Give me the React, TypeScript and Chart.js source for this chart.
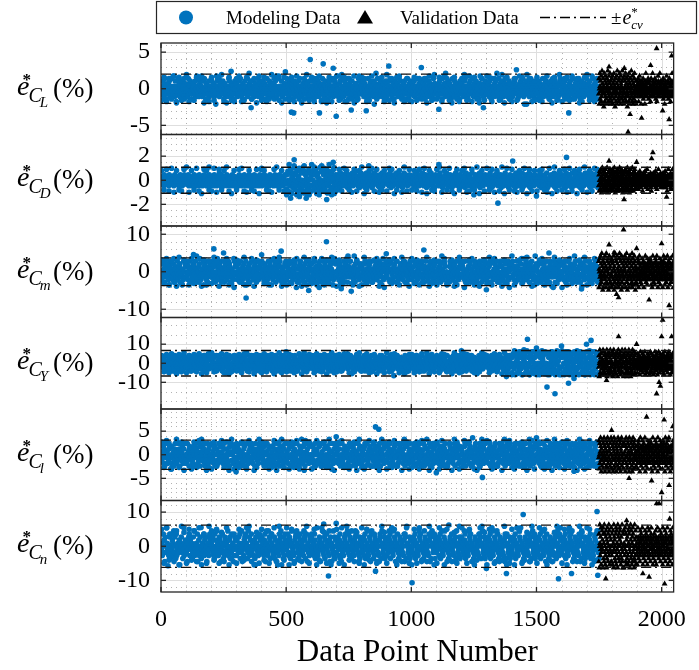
import React, { useEffect, useRef } from "react";
import { Chart, registerables } from "chart.js";

Chart.register(...registerables);

const SERIF = "'Liberation Serif', 'Times New Roman', serif";
const BLUE = "#0072BD";
const AXIS_COLOR = "#262626";

// Horizontal axis: data point number
const xMin = 0;
const xMax = 2048;
const xTickValues = [0, 500, 1000, 1500, 2000];
const xMinorStep = 100;

// One panel per normalised coefficient error, top to bottom
const panelKeys = ["CL", "CD", "Cm", "CY", "Cl", "Cn"];
const panelSubscripts = ["L", "D", "m", "Y", "l", "n"];
const panelLimits = [6.25, 3.8, 12.2, 24, 9.7, 13.4];
const panelTickValues = [
  [-5, 0, 5],
  [-2, 0, 2],
  [-10, 0, 10],
  [-10, 0, 10],
  [-5, 0, 5],
  [-10, 0, 10],
];
const panelMinorStep = [1, 0.5, 2, 5, 1, 2];
// cross-validation error bound drawn as dash-dot lines (±e*cv)
const ecvLimits = [2.0, 1.08, 3.7, 6.7, 3.1, 6.2];

// Error samples are stored as level strings: 'm' is zero, each letter step is one level unit.
const LEVELS = "abcdefghijklmnopqrstuvwxyz";
const ZERO_LEVEL = 12;
const levelUnits = [0.35, 0.15, 0.7, 1.0, 0.6, 0.9];
// the sparser fringe samples use a finer level unit
const edgeUnits = [0.175, 0.1, 0.35, 0.5, 0.3, 0.45];
const modelFirstPoint = 1;
const modelSpacing = 2;
const edgeFirstPoint = 2;
const edgeSpacing = 10;
const validationFirstPoint = 1749;
const validationSpacing = 1;

const clModelRows = `
mkplnjoqlm inkmolpkjn qmlkrnmjpl hnmkqlojmn lpkmnjiomk
nlmjqkonpl kmimnolkpj mrlnkjmopl nkjmplqkmi onlmkpjnml
kpmlnojmkg lnpqmkjlon mlkpnimojl knmjlqpnkm jolnmkhpml
omjlkpnmql jkmonilpmk nlqjmkonlp mikplnjmok lmnqjkpoml
jnmpklomin kqlmjnpokl mnjkolimpn ljmkqrnlkm pnjlmkoiln
mlkonjpmlq kniompljkn olmkpjnqml kjmonlipkm nlojmkplnj
lpmnkiqolj mknpljomkn hlqmkojnpl mkilnopjmk qnlmjkponl
knrmjlopim kqnljmphok nmlqikojnm lpkmnrjlok mjniqlpkmo
nmlkpjomln kimqlnjopk mlnkjpomls nkqmljonpk lmjnokimpl
jolmnkpqlm njkmoilpnk mlojkqnmpl kjnmolpkim nlqkmjonlp
mkonlpjmkn lqimkonjlp mnkljomiqp lnkmjponlk mjliqnokml
lnmjkopmln kiqmlnojsk mlnkpjomli nkqmljpnom lkjmonipkl
omkljnpqmk lnjimokpln mkqljnomkp lnmjkiorln qkmljnopmk
knlmojpkmi lqnmkjolpn mkljqnmoik pnlmjkoqln mkjlnpoimk
mljnkopqlm nkimjlonpk lmqnjkomlp gnkmljopqn lkmjnopilk
nkmlpjoimn lkqmjnolpk mnljkiompl nkqjmlopnk mlijnokqpl
lmkonjpimq lnkmjolpnk miqlnkjomp lnkmqjoinl pkmljnokmq
knmlojpkim nlqmkjonlp mkiln
`;
const clEdgeRows = `
dvcuewbvdu xcedvuwbec vdwuxcbvde uwcdvyeubw dvcexuwdbv
udvcwebuxd vcuwdebvcu wdxvcuebdw vucdwaeuvc xdubvwecud
cvdueubwdx evcwudbvec uxdwcvebud wvcuydxbve cudwvaxucd
vdcuwebvdx cuvdweubcv xdwcu
`;
const clValidationRows = `
kqgmsniplh rjmtkogqln fmskhpjrmo ilqgnmtkph jrlomsigkp
nhqjmrkgol sipnkfmqjh lrogtkmnip hqjsmklgro nipmtjkhql
gmrkpinsjh omqlfkrnjp hsmogiqlkn tjmphrkgoi lnqsjmkhpg
lnkmpjoqlh nmkrljpong mkjlpnoqik lmnjgkposl nmjkoplqmi
kompljnhmq lnkjmspolk njmlqokpim lnhkmjorpl mkjnslopmk
nlmkojpqil mnkgjlopmk nrlmkjpoim lkqnmjohpl nmksjlopkm
`;
const clModelOutliers = [
  [596, 4.0], [648, 3.4], [688, 2.8], [521, -3.2], [530, -3.3], [633, -3.3],
  [700, -3.75], [1629, -3.3], [1288, -2.6], [497, 2.3], [820, -3.0], [1040, 2.9],
  [760, -2.9], [910, 3.1], [1110, -2.8], [1420, 2.6], [360, -2.6], [280, 2.4],
];
const clValidationOutliers = [
  [1980, 5.5], [1956, 3.2], [1851, 2.8], [1874, -3.5], [1866, -5.9], [2004, -3.0],
  [2030, -4.2], [1790, 3.0], [2040, 4.5], [1920, -4.0],
];

const cdModelRows = `
lmkonjplmk nlomkjpnlm kolnmjkpml nkomljnkpm lojnkmplkn
mknlpjomkl njmolkpnmj lkonmjplkn mojlknpmlo jkmnlopkjm
nlkmojpnlk mjolnkqmlj pknmljoknm lpjnmkolnj mkplnjomkl
kmlnjopmkl njkmolpnkj mlonkjpmln kojmlnpkmj lnokmjlpnm
ljmnkoplmk jnlmokjpnm lkomjnlpkm njolmkpjnl mokjlnmpkl
hpkrgmqjsl foniqkthmp jrglondsik qhmtjfrlpg nkiqhsmjro
gqjmrhkpsi lfoqjnhtkm riglpjqhmn skfpjrmgoi qlhnstjkpg
lnkpmjoiql mknpljomkq nlikmpojln kmqjlnpmkr lonjkmiplq
mkonljpimk qnlmjokpln mijnkqolmp knljmoipnk lqmjknolpm
nlkmpjoqmi lnkjmoplkn qmljnkpoml jkinmqolpk nmjlokpnlm
kmolnjpkmi qlnmkjopln mkqljnompk ilnmjkpolq nkmjloinpm
lnmkojpqln mkijlonmpk qlnjmkoplm inkljmpoqk nlmjokpinl
mjoknlpimq nklmjopknl mqikljnopm klnjmoqipk lmnjkolpmn
knmlojpqkm inljmokpnl mqkjlnompi lknmjopqlk nmjliokpnm
olmkjnpimq lnkmjolpkn mqiljnkomp lknmjqoipl nkmljopnkm
mnlkojpqmi nlkjmoplnk qmijlnkomp lnkmjqoilp kmnljpoqnk
lkmnojpilq mnkjlopmnk iqlmjnkopl mknjqloipm nlkmjopqnl
mkolnjpimq lnkmjolpnk qmiln
`;
const cdEdgeRows = `
uevdwcuedv xcuewdbvue dwcveuxdbu evwdcuedvb wuedcvxeud
azbyawcyba zxbaywczab evdwuecvdu xbeuwdvceu dwvbeucxdv
eudvcwbued vxcuewdbve uwcdvexbud wevcudxbwe vdcuewbvdu
duvecwbxdu evcwdubvex cudwv
`;
const cdValidationRows = `
jpgmrkhqns lfojtkmipg rhnkqjsmlg oiptkhfmqj nrglsoikph
mqhjsnkgpr iltomjfqkh nrpgksjmio hqltgnkrjp mshoqlfink
pgkrmjhsno qilgtkpmjh rnfoqksgml ihpjtnkqgo mrjslhkpni
mlnkojpqhm knljrmopil mnkjlgpoqm nlkmjrpoil knmsljhopm
lkmnjopqil gnmkljpoqm lnkjmorpil mnhkljposm nlkmjopqil
knlmjpoqim lnkjmrpoil mnkgljposm klnmjopqih mlnkjsopqm
`;
const cdModelOutliers = [
  [532, 1.7], [192, 1.1], [688, 1.5], [662, -1.6], [580, -1.5], [518, -1.5],
  [1620, 1.9], [1405, 1.6], [1346, -1.9], [400, 0.9], [1110, 1.3], [1500, -1.3],
  [830, 1.2], [1250, -1.2],
];
const cdValidationOutliers = [
  [1790, 1.6], [1850, -1.6], [1960, 1.8], [1965, 2.3], [2020, -1.4], [1900, 1.5],
];

const cmModelRows = `
mjplkniqom lknpjmhoql nkmjprlion kmqjlnopik mlhnjqmkpo
kplmjonqil mnkjpomlqk injlmoprkj mlnkqhoplm jkniqmolpk
nkqlmjopik lmrjnkpoml qjknmliopk njmlqkpoim lnkjmrqlop
omjkplniqm kljonpmhkq lnmjokpilm nqkljmopnk imlqjnokpl
lqmknjpoil mkjnqlopmk hlnjmkoqpi nlkmjpoqlm kinjlmopkq
jmoklnpqim lnkjmopqlk gnijlokpqm lnkjomipln qkmljnopki
pkmnljrqio mhknlpjqom ilnkmqjpol nkimjlqopk nmlhjkrqpm
kmqlnjopim lknjmqolpk mnisloknqm lnkhjomipl nqkmljnopk
onlkmjpqmi nlkjmoplnk qmijlnkomp ljkmnqoilp nkmrjopnkm
lkonmjpiqm nljkmopmnk iqlmjnkopl mknjqloipm nlkmjopqnl
njmkloqpim kljnmopqkl pnijklomqn lmkjnoipql kmnljopikm
kqmnljopim lnkjmqpolk mhijlkoqpm nlkjmopiln qkmljnoqpk
lponkmjqil kmnloqjpik nmljkoqmpi jlnkomqpkl imnjolkqpm
jnmklopqil qmkjlnpmko nlijmkopql okmjnliqpm lnkqjmopnk
pkqnljomim lnojkqmlpk rnijmlkopq jlnkmoipln qkmljnoskp
nomkjlpqim klnjpomqlk jnimlkopqm nlkgmoqipl nkpljomqkm
lmpkjnoqim nlqkjmoplk mnijokpqln lmkjnoqipl kpnlmjoqkm
mnkqjolpim lnkjmoplqk onijl
`;
const cmEdgeRows = `
vdwcuebxdv ucwdyebvcu dxvbeuwcda vuexcdwbvu zdecvwuxbd
cudvwebxcv dueawcvdxu bvcewudyvb cxduevwbca uvdwecxudb
wdvcuexbdv cuywdevbcx uadvwcebuv dxcwuebvda ycuvdwxebc
dvwcuebxdv aucwdyevbx cudwv
`;
const cmValidationRows = `
qgnmrkhslp ijtomkfqgn rlhpjskmog tinkqhmrlf pjsgnoikqh
lrgmkpqhjs nfoimtkglr qjhspnkmig olrtjhkqmn fsipglkrmo
jqhnsmkgpr ltiofjqmkh rgnpslkmjq hoitgkrnlp mjshqkfoni
mlhnkjrpqg nlskmjoipl hmnrkljpqo gmlnkjspoi lmnhkrjopq
nkmljrpoqh mlngkjsopi lnmkhjrpqo mkslnjgopi nmlkrjhpoq
lnmkjgpoqs nlmkhjrpoi mlnksjgopq lnmhkjrpoi nmlkjspogq
`;
const cmModelOutliers = [
  [211, 6.1], [250, 5.0], [661, 8.0], [340, -7.0], [720, -4.5], [480, 5.5],
  [1050, 5.8], [760, -5.2], [130, 4.6], [590, -5.0], [900, 4.8], [1300, -4.8],
  [1550, 5.0], [1680, -4.6],
];
const cmValidationOutliers = [
  [1848, 11.2], [1790, 7.2], [1810, 5.1], [1828, -6.9], [1820, -6.0], [1950, -7.5],
  [2000, 7.5], [2030, -9.0], [1900, 6.2],
];

const cyModelRows = `
mlkonpjimq lnkjmoqlpk nmjilkoqpm lkjnmopiql nkmqjlonpk
kmnljoqpim nlkjpomqlk ipnjmklqom jlnkomqipl mknlrjopqk
olnkmjpqim kqlnjmoplk nmijlkopqh nlkjmoqipl pkmljonqkm
jmonklpqil mnkjlopmqk lnijmkoqpl mnkjloqipm lnkmjopqnk
nkmqljopim lqnkjmolpk mnijlokpqm lnkjomipln qkmljnopki
pmlkjonqim klnjmopqlk mnijlkopqm nlkjmoqipl nkmljopqkm
lmnkjoqpim nlkjmoplqk mnijlkopqn lmkjnoqipl kmnljopqkm
qnmljkopim lnkjmqolpk mnrjlokpqm lnkjomipln qkmljnopki
mkolnjpimq lnkmjolpnk qmilnjkomp lknmjopqlk nmjliokpnm
knmlojpqkm inljmokpnl mqkjlnompi lknmjopqlk nmjliokpnm
olmkjnpimq lnkmjolpkn mqiljnkomp lknmjqoipl nkmljopnkm
lkmnojpilq mnkjlopmnk iqlmjnkopl mknjqloipm nlkmjopqnl
nlkmpjoqmi lnkjmoplkn qmljnkpoml jkinmqolpk nmjlokpnlm
mkonljpimk qnlmjokpln mijnkqolmp knljmoipnk lqmjknolpm
hpkrmjqgsl nohqkimsjp lrgkonmqhj sikpmlgrnq hjoskmpilr
gqjmrhkpsi lnoqjmhskm riglpjqhmn skipjrmgoi qlhnsrjkpg
kphrmgqjso limskqhnpj rglmosikqh njrpgmlsok hqimrjpgnl
sjhpmkqgrn oilhmpsjkq ngrlh
`;
const cyEdgeRows = `
udvcwebvdx cuevdwbucv xdeuwcvbdu evcwxdubve cwduvbexcu
dvucewbxdv ucwedvbuxc dvewucbdvx euwcdvbeuc xdvwucebdv
vcudwexbvd ucwvdebxuc dwvuecbdxv ucewdvbxcu azbyaxzayb
yazbxaybza zbyaxazyba bzyax
`;
const cyValidationRows = `
kqfmtnhplr gjmslogtkn ihsqkmrjgp oltfnkqimh srjgpntkmi
hnqkmsfgrl tpijmkhqon grslmfkpti jnhqrmkgos lipthkmnqf
mrgkptjhsn lofqikmrgh tnpjskmfoq hilrgtmnkp jsoqhlkgrm
mnlkhjrpoq lmnkgjspoi nlmkjrhpoq mlnksjgopi lnmkhjrpoq
kpmgnlsoih rmjnklqogp lhmnsjkoqi nrmlgkpjos mkhlnrjpqi
omkjnlrhpq gnmkslojpi lnqkmhjrop smklngjoqp nhlmkrjpqi
`;
const cyModelOutliers = [
  [1464, 12.6], [1718, 12.0], [1574, -16.0], [1542, -12.5], [1628, -10.5],
  [1500, 8.0], [1600, 9.0], [1650, -8.0], [1700, 10.0], [1450, 7.0], [1380, -7.0],
  [500, 6.0], [930, -6.5], [1200, 6.5],
];
const cyValidationOutliers = [
  [2004, 22.6], [1828, 14.0], [2000, 14.0], [2040, 14.0], [1980, -16.0],
  [1990, -10.0], [1995, -12.0], [1780, -9.0], [1900, 10.0],
];

const clRollModelRows = `
nkmlpjoimq lnqjmkoplh mpijlnkoqm jlnkqmoiql nkpmjolqkm
jmqknlopim lokjnmpqil onmjlkqpin lmkpnoqjil kmnqjoplkm
mqlnkjopim oikjnmqlpk mnpjlqkoim lokjnmipqn qkmpjnolki
lkpnojmilq mnkjqopmlk iqlmjnkopl pknjmloiqm nlkojmpqnl
omlkjnpqim nqkjmolpki mnpjlkqoim lnqjomkipl nkmpjolqkm
knmjloqpim lpkjnmoqlk mqijnkhpom lnkjpmqirl nkomljpqkm
mlpkjnoqim nokjmqplki mnqjlkoipm lpkjomnqil nkqljomqkp
pnmkjloqim lqkjmnopli mnojlkqpmi lnkpomjqil nkmqjolpkm
jlnkmopqim qlkjnmopil mnikqlopjm lnkjpmqoil nkmlojpqkm
mkpnljoqim lnkjmopqli qnijmkoplm lnqjomkipl pkmljnoqkm
nlmkjpoqim lnpjmkoqli mnijqkoplm lokjnmqipl nkmqjolpkm
lqnkjmopim lnkjpmoqli mnijlkqpom lnkjomqipl nqmljopkkm
onmkjlpqim lnkqmjopli mnsjlkopqm lnkjomqipl nkmpjolqkm
kmnljoqpim lnkjmopqli mnijlkopqm qnkjomlipl nkmljpoqkm
mlnkjopqim nlkjmqopli mnpjlkoiqm lnkjomqipl nkmljopqkm
pkmnljoqim lnkqjmopli mnijlkopqm lnkjomqipl nkmljopqkm
nmlkjopqim lnqkjmopli mnijlkopqm lnkjomqipl nkmljopqkm
lmknjopqim nlkjmqopli mnijl
`;
const clRollEdgeRows = `
vdwucexdvb uecvdwxubd cveuwdvbxc udvecwubdx veucdwbvxd
ucvdwexbuv cdwuevdxcb uvwdecuvbx dcuwevdbxu cvdweubxvc
duvcwexbdu vcwedubxvc dwuvecbdxu wvcdeubxvw dcuevdbxwc
uvdcwebxud vcweudbxvc dwuev
`;
const clRollValidationRows = `
lrhmqjnspk gomikrlhqn jsmpkglorh inqmkshjpl rgnokiqmhs
jmrhlpkgoq nsimhkrljp gqomnikshr lpjmhqkgon rsilmpjhqk
hqmknrgpls jolihmqrkn pgsmjlhkoq nrimgkpsjh lqomrkhnpi
lmnkjhpoqr nlmkgjsopi mlnkrjhpoq lnmksjgopi nmlkhjrpoq
mnkljrpohq lnmgkjsopi kmlnjhrpoq nlmkjgsopi lmnkjrhpoq
nlkmhjrpoq mlnkgjspoi lqnmkjrhop snmlkjgopi mlpnkhjrqo
`;
const clRollModelOutliers = [
  [857, 5.9], [870, 5.4], [1284, -4.8], [300, -3.6], [700, 3.8], [1100, -3.8],
  [1500, 3.6], [1650, -3.5],
];
const clRollValidationOutliers = [
  [1940, 8.0], [2010, 7.4], [2045, 6.0], [1800, 5.2], [2000, -8.0], [2030, -6.5],
  [1870, -5.0], [1960, -5.5],
];

const cnModelRows = `
lnjmqkohpm ksnlmjpqik mlonjrkpmi qjlnmkogln pmkilsjnom
kmhnlpqjom lnikpmrjlk nmqhlojkpm ilnmkqjopl mhknpjlqom
nmpkljiqom krlnjmpokh lmqnikjpom nlkrjmopil kqmnhjlpom
jolmkpnqim lkhnmjopql nmikrlpjom qklnmjoigp lnmkjpqlom
mpknljoqhm nlkjrmpoil qnmkjlpiom hlknmjqopr lmnkipjqom
lnmqkjpoim nrkljmhopq mnkilpjqom lnkmjrpoil qmhnkljpom
pmlknjqoim lskjmnpohl mnrkljpiom qlnkmjohpg nmlkrjpiom
kmnpljoqim hnkljmpoql mnrkqljpom ilnkmjoprq lnmkhjpiom
nlkmpjoqim lnrkjmpohl qmnkiljpom lnhkmjoqpi mrnkljpiom
mjnklpoqim lnkjrmpohl mnqkiljpom lnkmjohqpi smnkljpiom
lmknpjoqim nlkjmrpoql hmnkiljpom lnkmjqohpi mrnklgpiom
knmlpjoqim lnkjmpronl mhnkiljpom qlnkmjohpi rmnkljpiom
pmnkljoqim lnkjmrpoql mnhkiljpom lnkmjqospi mnrkljpiom
mnklpjoqim lnkjrmpohl mnqkiljpom lnkmjohqpi gmnkljpiom
lkmnpjoqim nlkjmrposl mnhkiljpom lnkmjqohpi mnrkljpiom
nmklpjoqim lnrkjmpohl qmnkiljpom lnhkmjoqpi mnrkljpsom
kmlnpjoqim lnkjmrpoql mnhkiljpom lnkmjqohpi rmnkljpiom
mlknpjoqim nlkjmhpoql mnrki
`;
const cnEdgeRows = `
xbyducwazv bxdwcyaubz wdxbvcyaeu bxwdyzcavb xdwbuyczad
yaxbwdcvzb uxadyvbwce xbyazdwcvb yaxdwubczv bwyxadcuzb
axbydwczvu bywaxdcvbz ywbxcaduzv axybwcdzub xaywbdvczu
bywxadcvzu bxaywdczvb yxadw
`;
const cnValidationRows = `
hqfmtnjpls gkmrlofsqi nhtkqmgjpr lfoisnkhqm tjrgplmkoh
shjqmgkrnf tlpoimhkqs grjnlftmpi kqhosrmjgn pilthkfqmr
fnrjlsmhqg kotipmjgrn hqslfkmtoi rjgnphsqkm lfitohjrgp
mnlkgjspoi lmnkhjrpoq nlmksjgopi mlnkjrhpoq lnmkgjspoi
krmnljhpoq snmlkjgoip lmqnkhjrop gmnlksjopi nlmkrjhpoq
lnmkjgspoi mnlkrjhpoq nkmlsjgoip lmnkhjrpoq mlnkgjspoi
`;
const cnModelOutliers = [
  [1447, 9.3], [1742, 10.2], [1003, -10.7], [1588, -9.5], [1380, -8.0], [1640, -8.0],
  [1745, -8.5], [28, -5.7], [669, -8.7], [700, 6.7], [650, 6.5], [466, -5.5],
  [857, -7.3], [160, 5.5], [1150, 6.2], [1300, -6.5],
];
const cnValidationOutliers = [
  [1980, 12.5], [1990, 12.5], [2032, 8.0], [1777, -9.5], [2012, -11.0], [1950, -9.0],
  [1925, -8.0], [1860, 7.5],
];

const modelRows = [clModelRows, cdModelRows, cmModelRows, cyModelRows, clRollModelRows, cnModelRows];
const edgeRows = [clEdgeRows, cdEdgeRows, cmEdgeRows, cyEdgeRows, clRollEdgeRows, cnEdgeRows];
const validationRows = [clValidationRows, cdValidationRows, cmValidationRows, cyValidationRows, clRollValidationRows, cnValidationRows];
const modelOutliers = [clModelOutliers, cdModelOutliers, cmModelOutliers, cyModelOutliers, clRollModelOutliers, cnModelOutliers];
const validationOutliers = [clValidationOutliers, cdValidationOutliers, cmValidationOutliers, cyValidationOutliers, clRollValidationOutliers, cnValidationOutliers];

function decodeLevels(rows: string, unit: number, firstPoint: number, spacing: number) {
  const chars = rows.replace(/\s+/g, "");
  const pts: { x: number; y: number }[] = [];
  for (let i = 0; i < chars.length; i++) {
    const lvl = LEVELS.indexOf(chars[i]);
    if (lvl < 0) continue;
    pts.push({ x: firstPoint + i * spacing, y: (lvl - ZERO_LEVEL) * unit });
  }
  return pts;
}

function pairsToPoints(pairs: number[][]) {
  return pairs.map(([x, y]) => ({ x, y }));
}

function line(ctx: CanvasRenderingContext2D, x1: number, y1: number, x2: number, y2: number) {
  ctx.beginPath();
  ctx.moveTo(x1, y1);
  ctx.lineTo(x2, y2);
  ctx.stroke();
}

const crisp = (v: number) => Math.round(v) + 0.5;

function drawPanelLabel(ctx: CanvasRenderingContext2D, sub: string, cy: number) {
  const x0 = 17;
  ctx.fillStyle = "#000";
  ctx.textAlign = "left";
  ctx.textBaseline = "alphabetic";
  ctx.font = `italic 28px ${SERIF}`;
  ctx.fillText("e", x0, cy + 6);
  const eW = ctx.measureText("e").width;
  ctx.font = `bold 17px ${SERIF}`;
  ctx.fillText("*", x0 + eW * 0.45, cy - 4);
  ctx.font = `italic 20px ${SERIF}`;
  const cx = x0 + eW - 1;
  ctx.fillText("C", cx, cy + 13);
  const cW = ctx.measureText("C").width;
  ctx.font = `italic 15px ${SERIF}`;
  ctx.fillText(sub, cx + cW - 2, cy + 18);
  ctx.font = `27px ${SERIF}`;
  ctx.fillText("(%)", 53, cy + 8);
}

function drawLegend(ctx: CanvasRenderingContext2D) {
  const left = 156;
  const right = 697;
  const top = 1;
  const bottom = 34;
  const cy = (top + bottom) / 2;
  ctx.save();
  ctx.fillStyle = "#fff";
  ctx.fillRect(left, top, right - left, bottom - top);
  ctx.strokeStyle = AXIS_COLOR;
  ctx.lineWidth = 1.2;
  ctx.strokeRect(left + 0.5, top + 0.5, right - left - 1, bottom - top - 1);

  ctx.fillStyle = BLUE;
  ctx.beginPath();
  ctx.arc(186, cy, 7, 0, Math.PI * 2);
  ctx.fill();

  ctx.fillStyle = "#000";
  ctx.font = `19px ${SERIF}`;
  ctx.textAlign = "left";
  ctx.textBaseline = "alphabetic";
  ctx.fillText("Modeling Data", 226, cy + 6);

  ctx.beginPath();
  ctx.moveTo(365, cy - 7.5);
  ctx.lineTo(373, cy + 6);
  ctx.lineTo(357, cy + 6);
  ctx.closePath();
  ctx.fill();

  ctx.fillText("Validation Data", 400, cy + 6);

  ctx.strokeStyle = "#000";
  ctx.lineWidth = 1.4;
  ctx.setLineDash([10, 4, 2, 4]);
  line(ctx, 540, cy, 606, cy);
  ctx.setLineDash([]);

  ctx.font = `19px ${SERIF}`;
  ctx.fillText("±", 611, cy + 6);
  const pmW = ctx.measureText("±").width;
  ctx.font = `italic 20px ${SERIF}`;
  ctx.fillText("e", 611 + pmW + 1, cy + 6);
  const eW = ctx.measureText("e").width;
  ctx.font = `13px ${SERIF}`;
  ctx.fillText("*", 611 + pmW + eW + 1, cy - 2);
  ctx.font = `italic 13px ${SERIF}`;
  ctx.fillText("cv", 611 + pmW + eW + 1, cy + 11);
  ctx.restore();
}

const panelDecor = {
  id: "panelDecor",
  beforeDatasetsDraw(chart: any) {
    const ctx: CanvasRenderingContext2D = chart.ctx;
    const xs = chart.scales.x;
    const { left, right } = chart.chartArea;
    ctx.save();
    ctx.lineWidth = 1;
    panelKeys.forEach((key, i) => {
      const ys = chart.scales["y" + key];
      const top = ys.top;
      const bottom = ys.bottom;
      // minor grid (dotted)
      ctx.strokeStyle = "rgba(0,0,0,0.3)";
      ctx.setLineDash([1, 4]);
      for (let v = xMinorStep; v < xMax; v += xMinorStep) {
        if (xTickValues.includes(v)) continue;
        const px = crisp(xs.getPixelForValue(v));
        line(ctx, px, top, px, bottom);
      }
      const step = panelMinorStep[i];
      const lim = panelLimits[i];
      for (let k = Math.ceil(-lim / step); k * step <= lim; k++) {
        const v = +(k * step).toFixed(6);
        if (panelTickValues[i].includes(v)) continue;
        const py = crisp(ys.getPixelForValue(v));
        line(ctx, left, py, right, py);
      }
      // major grid (solid, light)
      ctx.setLineDash([]);
      ctx.strokeStyle = "#dedede";
      xTickValues.forEach((v) => {
        if (v === xMin) return;
        const px = crisp(xs.getPixelForValue(v));
        line(ctx, px, top, px, bottom);
      });
      panelTickValues[i].forEach((v) => {
        const py = crisp(ys.getPixelForValue(v));
        line(ctx, left, py, right, py);
      });
    });
    ctx.restore();
  },
  afterDatasetsDraw(chart: any) {
    const ctx: CanvasRenderingContext2D = chart.ctx;
    const xs = chart.scales.x;
    const { left, right } = chart.chartArea;
    const tickLen = 5;
    ctx.save();
    ctx.strokeStyle = AXIS_COLOR;
    ctx.lineWidth = 1.3;
    panelKeys.forEach((key, i) => {
      const ys = chart.scales["y" + key];
      const top = ys.top;
      const bottom = ys.bottom;
      ctx.strokeRect(left, top, right - left, bottom - top);
      panelTickValues[i].forEach((v) => {
        const py = ys.getPixelForValue(v);
        line(ctx, left, py, left + tickLen, py);
        line(ctx, right, py, right - tickLen, py);
      });
      xTickValues.forEach((v) => {
        const px = xs.getPixelForValue(v);
        line(ctx, px, top, px, top + tickLen);
        line(ctx, px, bottom, px, bottom - tickLen);
      });
    });
    ctx.restore();
  },
  afterDraw(chart: any) {
    const ctx: CanvasRenderingContext2D = chart.ctx;
    ctx.save();
    panelKeys.forEach((key, i) => {
      const ys = chart.scales["y" + key];
      drawPanelLabel(ctx, panelSubscripts[i], (ys.top + ys.bottom) / 2);
    });
    ctx.restore();
    drawLegend(ctx);
  },
};

export default function App() {
  const canvasRef = useRef<HTMLCanvasElement | null>(null);

  useEffect(() => {
    const canvas = canvasRef.current;
    if (!canvas) return;

    const datasets: any[] = [];
    const scales: any = {
      x: {
        type: "linear",
        position: "bottom",
        min: xMin,
        max: xMax,
        afterBuildTicks: (s: any) => {
          s.ticks = xTickValues.map((v) => ({ value: v }));
        },
        afterFit: (s: any) => {
          s.height = 78;
        },
        ticks: {
          autoSkip: false,
          maxRotation: 0,
          padding: 13,
          color: "#000",
          font: { family: SERIF, size: 24 },
          callback: (v: any) => String(v),
        },
        grid: { display: false, drawTicks: false },
        border: { display: false },
        title: {
          display: true,
          text: "Data Point Number",
          color: "#000",
          font: { family: SERIF, size: 31, lineHeight: 1.1 },
          padding: { top: 0, bottom: 0 },
        },
      },
    };

    panelKeys.forEach((key, i) => {
      const id = "y" + key;
      const lim = panelLimits[i];
      scales[id] = {
        type: "linear",
        position: "left",
        stack: "panels",
        stackWeight: 1,
        weight: panelKeys.length - i,
        min: -lim,
        max: lim,
        afterBuildTicks: (s: any) => {
          s.ticks = panelTickValues[i].map((v) => ({ value: v }));
        },
        afterFit: (s: any) => {
          s.width = 161;
        },
        ticks: {
          autoSkip: false,
          padding: 11,
          color: "#000",
          font: { family: SERIF, size: 24 },
          callback: (v: any) => String(v),
        },
        grid: { display: false, drawTicks: false },
        border: { display: false },
      };

      datasets.push({
        label: "Modeling Data",
        yAxisID: id,
        data: [
          ...decodeLevels(modelRows[i], levelUnits[i], modelFirstPoint, modelSpacing),
          ...decodeLevels(edgeRows[i], edgeUnits[i], edgeFirstPoint, edgeSpacing),
          ...pairsToPoints(modelOutliers[i]),
        ],
        pointStyle: "circle",
        pointRadius: 2.8,
        pointBackgroundColor: BLUE,
        pointBorderWidth: 0,
        showLine: false,
        order: 2,
      });
      datasets.push({
        label: "Validation Data",
        yAxisID: id,
        data: [
          ...decodeLevels(validationRows[i], levelUnits[i], validationFirstPoint, validationSpacing),
          ...pairsToPoints(validationOutliers[i]),
        ],
        pointStyle: "triangle",
        pointRadius: 3.4,
        pointBackgroundColor: "#000",
        pointBorderWidth: 0,
        showLine: false,
        order: 1,
      });
      [1, -1].forEach((sign) => {
        datasets.push({
          label: "±e*cv",
          yAxisID: id,
          data: [
            { x: xMin, y: sign * ecvLimits[i] },
            { x: xMax, y: sign * ecvLimits[i] },
          ],
          showLine: true,
          borderColor: "#111",
          borderWidth: 1.4,
          borderDash: [10, 4, 2, 4],
          pointRadius: 0,
          fill: false,
          order: 0,
        });
      });
    });

    const chart = new Chart(canvas, {
      type: "scatter",
      data: { datasets },
      options: {
        responsive: false,
        animation: false,
        events: [],
        layout: { padding: { top: 43, right: 16, bottom: 0, left: 0 } },
        plugins: {
          legend: { display: false },
          tooltip: { enabled: false },
        },
        scales,
      },
      plugins: [panelDecor],
    });

    return () => chart.destroy();
  }, []);

  return (
    <div style={{ position: "absolute", left: 0, top: 0, width: 699, height: 670, background: "#fff" }}>
      <canvas ref={canvasRef} width={699} height={670} />
    </div>
  );
}
